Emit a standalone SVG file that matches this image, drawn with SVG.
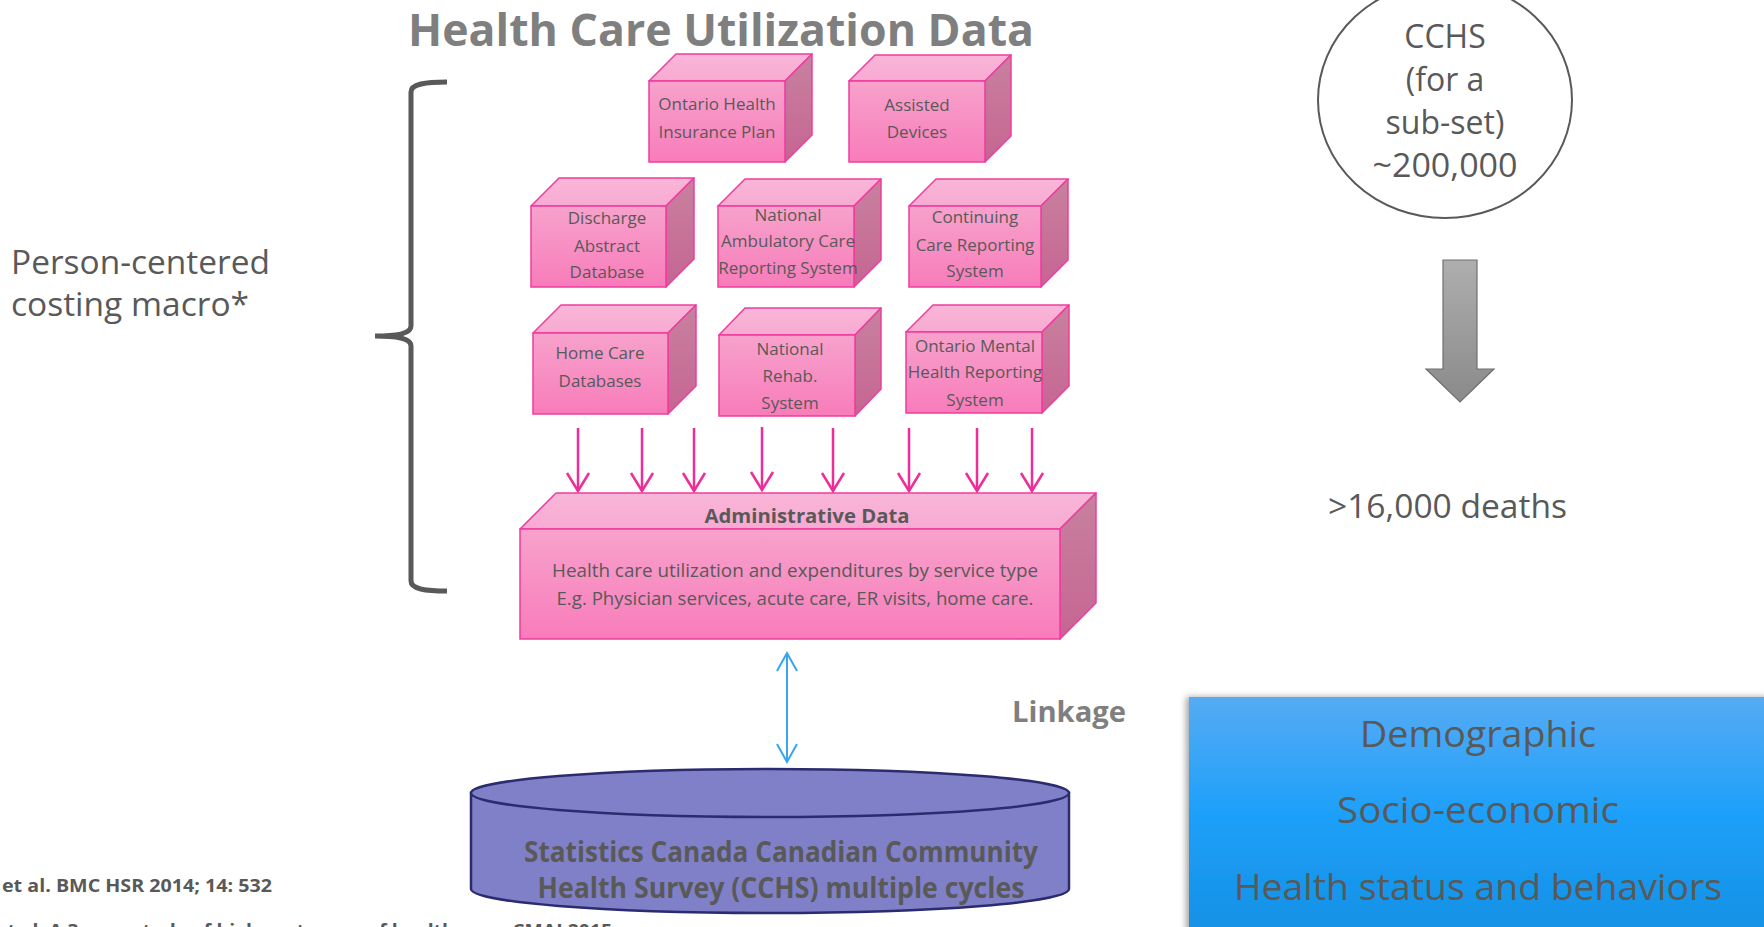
<svg xmlns="http://www.w3.org/2000/svg" width="1764" height="927" viewBox="0 0 1764 927">
<style>
.t{font-family:"Open Sans","Liberation Sans",sans-serif;fill:#595959}
.bx{font-size:17px;text-anchor:middle}
.b{font-weight:bold}
.front{fill:url(#gFront);stroke:#ee3d9f;stroke-width:1.5}
.top{fill:url(#gTop);stroke:#ee3d9f;stroke-width:1.5;stroke-linejoin:round}
.side{fill:url(#gSide);stroke:#ee3d9f;stroke-width:1.5;stroke-linejoin:round}
.pk{stroke:#ee2d99;stroke-width:2.5;fill:none}
</style>
<defs>
<linearGradient id="gFront" x1="0" y1="0" x2="0" y2="1"><stop offset="0" stop-color="#f7a2cc"/><stop offset="1" stop-color="#f87cba"/></linearGradient>
<linearGradient id="gTop" x1="0" y1="0" x2="0" y2="1"><stop offset="0" stop-color="#f9b6d8"/><stop offset="1" stop-color="#f8aad2"/></linearGradient>
<linearGradient id="gSide" x1="0" y1="0" x2="0" y2="1"><stop offset="0" stop-color="#c8819f"/><stop offset="1" stop-color="#c66592"/></linearGradient>
<linearGradient id="gBlue" x1="0" y1="0" x2="0" y2="1"><stop offset="0" stop-color="#56abf3"/><stop offset="0.45" stop-color="#1fa0fa"/><stop offset="1" stop-color="#138fe2"/></linearGradient>
<linearGradient id="gGrey" x1="0" y1="0" x2="0" y2="1"><stop offset="0" stop-color="#aeaeae"/><stop offset="1" stop-color="#8a8a8a"/></linearGradient>
<filter id="sh" x="-5%" y="-5%" width="110%" height="110%"><feDropShadow dx="-3" dy="0" stdDeviation="3" flood-color="#000" flood-opacity="0.35"/></filter>
<marker id="pHead" viewBox="-2 -13 22 26" refX="18" refY="0" markerWidth="22" markerHeight="26" markerUnits="userSpaceOnUse" orient="auto"><path d="M0,-11 L18,0 L0,11" fill="none" stroke="#ee2d99" stroke-width="2.5"/></marker>
<marker id="bHead" viewBox="-2 -12 22 24" refX="18" refY="0" markerWidth="22" markerHeight="24" markerUnits="userSpaceOnUse" orient="auto-start-reverse"><path d="M0,-10 L18,0 L0,10" fill="none" stroke="#3aa5ee" stroke-width="2"/></marker>
</defs>
<rect width="1764" height="927" fill="#ffffff"/>

<text class="t b" x="408" y="46" font-size="45" textLength="626" lengthAdjust="spacingAndGlyphs" style="fill:#7f7f7f">Health Care Utilization Data</text>

<g id="leftLabel">
<text class="t" x="11" y="274" font-size="33" textLength="259" lengthAdjust="spacingAndGlyphs">Person-centered</text>
<text class="t" x="11" y="316" font-size="33" textLength="238" lengthAdjust="spacingAndGlyphs">costing macro*</text>
<path d="M447,82 C425,82 411,84 411,92 L411,326 C411,333 400,336 375,336 C400,336 411,339 411,346 L411,581 C411,589 425,591 447,591" fill="none" stroke="#595959" stroke-width="5"/>
</g>

<g id="box-ohip">
<polygon class="top" points="649,81 676,54 812,54 785,81"/>
<polygon class="side" points="785,81 812,54 812,135 785,162"/>
<rect class="front" x="649" y="81" width="136" height="81"/>
<text class="t bx" x="717" y="110">Ontario Health</text>
<text class="t bx" x="717" y="138">Insurance Plan</text>
</g>
<g id="box-assisted">
<polygon class="top" points="849,81 875,55 1011,55 985,81"/>
<polygon class="side" points="985,81 1011,55 1011,136 985,162"/>
<rect class="front" x="849" y="81" width="136" height="81"/>
<text class="t bx" x="917" y="111">Assisted</text>
<text class="t bx" x="917" y="138">Devices</text>
</g>
<g id="box-discharge">
<polygon class="top" points="531,206 559,178 694,178 666,206"/>
<polygon class="side" points="666,206 694,178 694,259 666,287"/>
<rect class="front" x="531" y="206" width="135" height="81"/>
<text class="t bx" x="607" y="224">Discharge</text>
<text class="t bx" x="607" y="252">Abstract</text>
<text class="t bx" x="607" y="278">Database</text>
</g>
<g id="box-nacrs">
<polygon class="top" points="718,206 745,179 881,179 854,206"/>
<polygon class="side" points="854,206 881,179 881,260 854,287"/>
<rect class="front" x="718" y="206" width="136" height="81"/>
<text class="t bx" x="788" y="221">National</text>
<text class="t bx" x="788" y="247">Ambulatory Care</text>
<text class="t bx" x="788" y="274">Reporting System</text>
</g>
<g id="box-continuing">
<polygon class="top" points="909,206 936,179 1068,179 1041,206"/>
<polygon class="side" points="1041,206 1068,179 1068,260 1041,287"/>
<rect class="front" x="909" y="206" width="132" height="81"/>
<text class="t bx" x="975" y="223">Continuing</text>
<text class="t bx" x="975" y="251">Care Reporting</text>
<text class="t bx" x="975" y="277">System</text>
</g>
<g id="box-homecare">
<polygon class="top" points="533,333 561,305 696,305 668,333"/>
<polygon class="side" points="668,333 696,305 696,386 668,414"/>
<rect class="front" x="533" y="333" width="135" height="81"/>
<text class="t bx" x="600" y="359">Home Care</text>
<text class="t bx" x="600" y="387">Databases</text>
</g>
<g id="box-rehab">
<polygon class="top" points="719,335 745,308 881,308 855,335"/>
<polygon class="side" points="855,335 881,308 881,389 855,416"/>
<rect class="front" x="719" y="335" width="136" height="81"/>
<text class="t bx" x="790" y="355">National</text>
<text class="t bx" x="790" y="382">Rehab.</text>
<text class="t bx" x="790" y="409">System</text>
</g>
<g id="box-mental">
<polygon class="top" points="906,332 933,305 1069,305 1042,332"/>
<polygon class="side" points="1042,332 1069,305 1069,386 1042,413"/>
<rect class="front" x="906" y="332" width="136" height="81"/>
<text class="t bx" x="975" y="352">Ontario Mental</text>
<text class="t bx" x="975" y="378">Health Reporting</text>
<text class="t bx" x="975" y="406">System</text>
</g>

<g id="admin">
<polygon class="top" points="520,529 556,493 1096,493 1060,529"/>
<polygon class="side" points="1060,529 1096,493 1096,603 1060,639"/>
<rect class="front" x="520" y="529" width="540" height="110"/>
<text class="t b" x="807" y="523" font-size="20" text-anchor="middle" textLength="205" lengthAdjust="spacingAndGlyphs">Administrative Data</text>
<text class="t" x="795" y="577" font-size="18.5" text-anchor="middle" textLength="486" lengthAdjust="spacingAndGlyphs">Health care utilization and expenditures by service type</text>
<text class="t" x="795" y="605" font-size="18.5" text-anchor="middle" textLength="477" lengthAdjust="spacingAndGlyphs">E.g. Physician services, acute care, ER visits, home care.</text>
</g>

<g id="connectors">
<line class="pk" x1="578" y1="428" x2="578" y2="491" marker-end="url(#pHead)"/>
<line class="pk" x1="642" y1="428" x2="642" y2="491" marker-end="url(#pHead)"/>
<line class="pk" x1="694" y1="428" x2="694" y2="491" marker-end="url(#pHead)"/>
<line class="pk" x1="762" y1="427" x2="762" y2="490" marker-end="url(#pHead)"/>
<line class="pk" x1="833" y1="428" x2="833" y2="491" marker-end="url(#pHead)"/>
<line class="pk" x1="909" y1="428" x2="909" y2="491" marker-end="url(#pHead)"/>
<line class="pk" x1="977" y1="428" x2="977" y2="491" marker-end="url(#pHead)"/>
<line class="pk" x1="1032" y1="428" x2="1032" y2="491" marker-end="url(#pHead)"/>
<line x1="787" y1="653" x2="787" y2="762" stroke="#3aa5ee" stroke-width="2" marker-start="url(#bHead)" marker-end="url(#bHead)"/>
<path d="M1443,260 L1477,260 L1477,369 L1494,369 L1460,402 L1426,369 L1443,369 Z" fill="url(#gGrey)" stroke="#707070" stroke-width="1.2"/>
</g>

<text class="t b" x="1012" y="722" font-size="28" textLength="114" lengthAdjust="spacingAndGlyphs" style="fill:#7f7f7f">Linkage</text>

<g id="cchs-db">
<path d="M471,793 L471,889 A299,24 0 0 0 1069,889 L1069,793 Z" fill="#8080c8" stroke="#2b2b70" stroke-width="2.5"/>
<ellipse cx="770" cy="793" rx="299" ry="24" fill="#8080c8" stroke="#2b2b70" stroke-width="2.5"/>
<text class="t b" x="781" y="862" font-size="28" text-anchor="middle" textLength="514" lengthAdjust="spacingAndGlyphs">Statistics Canada Canadian Community</text>
<text class="t b" x="781" y="898" font-size="28" text-anchor="middle" textLength="487" lengthAdjust="spacingAndGlyphs">Health Survey (CCHS) multiple cycles</text>
</g>

<g id="cchs-circle">
<ellipse cx="1445" cy="100" rx="127" ry="118" fill="#ffffff" stroke="#595959" stroke-width="2"/>
<text class="t" x="1445" y="48" font-size="32" text-anchor="middle">CCHS</text>
<text class="t" x="1445" y="91" font-size="32" text-anchor="middle">(for a</text>
<text class="t" x="1445" y="134" font-size="32" text-anchor="middle">sub-set)</text>
<text class="t" x="1445" y="177" font-size="32" text-anchor="middle" textLength="145" lengthAdjust="spacingAndGlyphs">~200,000</text>
</g>

<text class="t" x="1328" y="518" font-size="33" textLength="239" lengthAdjust="spacingAndGlyphs">&gt;16,000 deaths</text>

<g id="blue-box">
<rect x="1189" y="697" width="590" height="250" fill="url(#gBlue)" filter="url(#sh)"/>
<text class="t" x="1478" y="747" font-size="37" text-anchor="middle" textLength="236" lengthAdjust="spacingAndGlyphs">Demographic</text>
<text class="t" x="1478" y="823" font-size="37" text-anchor="middle" textLength="282" lengthAdjust="spacingAndGlyphs">Socio-economic</text>
<text class="t" x="1478" y="900" font-size="37" text-anchor="middle" textLength="488" lengthAdjust="spacingAndGlyphs">Health status and behaviors</text>
</g>

<g id="footnotes">
<text class="t b" x="2" y="892" font-size="18.5" textLength="270" lengthAdjust="spacingAndGlyphs">et al. BMC HSR 2014; 14: 532</text>
<text class="t b" x="-4" y="937" font-size="18.5" textLength="616" lengthAdjust="spacingAndGlyphs">et al. A 3-year study of high-cost users of health care. CMAJ 2015</text>
</g>
</svg>
